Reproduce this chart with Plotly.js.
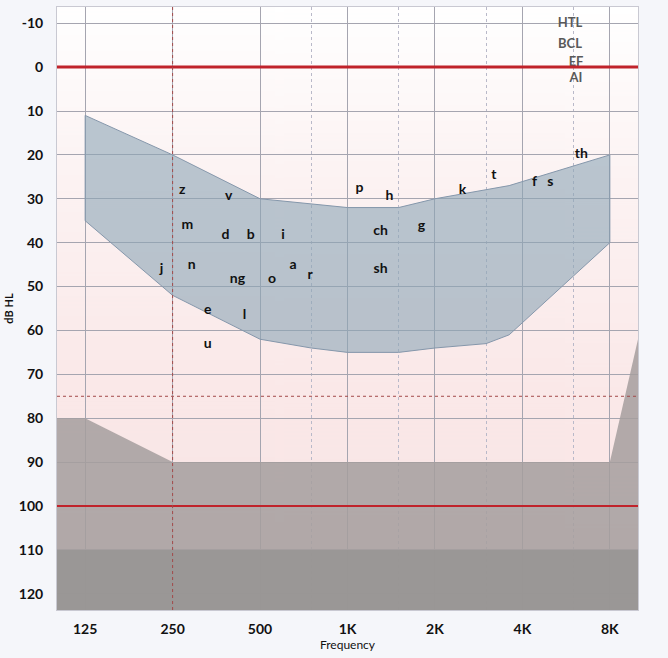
<!DOCTYPE html>
<html><head><meta charset="utf-8">
<script src="https://cdn.plot.ly/plotly-3.0.1.min.js"></script>
<style>html,body{margin:0;padding:0;background:#f5f6fa;}#c{width:668px;height:658px;}</style>
</head><body><div id="c"></div>
<script>
// Axis ticks
const freqTicks = [125, 250, 500, 1000, 2000, 4000, 8000];
const freqTickText = ['125', '250', '500', '1K', '2K', '4K', '8K'];
const halfOctaves = [750, 1500, 3000, 6000];
const dbTicks = [-10, 0, 10, 20, 30, 40, 50, 60, 70, 80, 90, 100, 110, 120];
const dbTickText = ['-10', '0', '10', '20', '30', '40', '50', '60', '70', '80', '90', '100', '110', '120'];

// Speech banana
const bananaTopFreq = [125, 250, 500, 1000, 1500, 2000, 3600, 8000];
const bananaTopDb   = [11, 20, 30, 32, 32, 30, 27, 20];
const bananaBotFreq = [125, 250, 500, 750, 1000, 1500, 2000, 3000, 3600, 8000];
const bananaBotDb   = [35, 52, 62, 64, 65, 65, 64, 63, 61, 40];

// Phonemes
const phonemes   = ['z','v','m','d','b','i','j','n','ng','o','a','r','e','l','u','p','h','ch','sh','g','k','t','f','s','th'];
const phonFreq   = [270,390,281,380,464,600,229,291,418,550,650,743,330,442,330,1100,1395,1300,1300,1797,2490,3190,4400,4990,6380];
const phonDb     = [28.2,29.4,36.2,38.3,38.3,38.3,46.2,45.3,48.3,48.5,45.3,47.4,55.4,56.5,63.3,27.6,29.4,37.4,46,36.4,28,24.8,26.2,26.4,20];

// Legend labels (top right)
const legendLabels = ['HTL', 'BCL', 'EF', 'AI'];
const legendFreq   = [5835, 5835, 6120, 6120];
const legendDb     = [-9.8, -5.2, -1.1, 2.7];

// Limits
const maskFreq = [100, 125, 250, 8000, 10000];
const maskDb   = [80, 80, 90, 90, 62];
const maxOutputDb = 110;
const refLinesDb = [0, 100];
const uclDb = 75;
const markerFreq = 250;

const yMin = -13.7, yMax = 123.7;
const F = 'Lato, "Open Sans", sans-serif';

// gradient background image (canvas)
const cv = document.createElement('canvas');
cv.width = 4; cv.height = 600;
const cx = cv.getContext('2d');
const g = cx.createLinearGradient(0, 0, 0, 600);
g.addColorStop(0, '#ffffff');
g.addColorStop(0.3, '#fcf2f2');
g.addColorStop(0.65, '#fae8e8');
g.addColorStop(1, '#f9e4e4');
cx.fillStyle = g; cx.fillRect(0, 0, 4, 600);
const bgURI = cv.toDataURL('image/png');

const traces = [];
// upper gray mask
traces.push({
  x: maskFreq.concat([10000, 100, 100]),
  y: maskDb.concat([yMax, yMax, maskDb[0]]),
  mode: 'lines', line: {width: 0}, fill: 'toself',
  fillcolor: 'rgba(164,158,157,0.85)', hoverinfo: 'skip', showlegend: false
});
// darker band
traces.push({
  x: [100, 10000, 10000, 100, 100], y: [maxOutputDb, maxOutputDb, yMax, yMax, maxOutputDb],
  mode: 'lines', line: {width: 0}, fill: 'toself',
  fillcolor: 'rgba(151,148,147,0.85)', hoverinfo: 'skip', showlegend: false
});
// banana
traces.push({
  x: bananaTopFreq.concat(bananaBotFreq.slice().reverse()).concat([bananaTopFreq[0]]),
  y: bananaTopDb.concat(bananaBotDb.slice().reverse()).concat([bananaTopDb[0]]),
  mode: 'lines', line: {color: '#8597ab', width: 1}, fill: 'toself',
  fillcolor: 'rgba(140,165,182,0.6)', hoverinfo: 'skip', showlegend: false
});
// phonemes
traces.push({
  x: phonFreq, y: phonDb, text: phonemes, mode: 'text',
  textfont: {family: F, size: 14, color: '#111', weight: 700},
  hoverinfo: 'skip', showlegend: false
});
// legend labels
traces.push({
  x: legendFreq, y: legendDb, text: legendLabels, mode: 'text',
  textfont: {family: F, size: 13, color: '#595959', weight: 700},
  hoverinfo: 'skip', showlegend: false
});

const shapes = [];
refLinesDb.forEach((d, i) => shapes.push({
  type: 'line', xref: 'paper', x0: 0, x1: 1, yref: 'y', y0: d, y1: d,
  line: {color: '#c0232b', width: i === 0 ? 3 : 2}, layer: 'above'
}));
shapes.push({type: 'line', xref: 'paper', x0: 0, x1: 1, yref: 'y', y0: uclDb, y1: uclDb,
  line: {color: '#a34a4a', width: 1, dash: 'dot'}, layer: 'above'});
shapes.push({type: 'line', xref: 'x', x0: markerFreq, x1: markerFreq, yref: 'paper', y0: 0, y1: 1,
  line: {color: '#a34a4a', width: 1, dash: 'dot'}, layer: 'above'});

const layout = {
  width: 668, height: 658,
  margin: {l: 57, r: 30, t: 7, b: 48},
  paper_bgcolor: '#f5f6fa', plot_bgcolor: '#fdf6f6',
  showlegend: false,
  font: {family: F, color: '#111'},
  images: [{source: bgURI, xref: 'paper', yref: 'paper', x: 0, y: 1, sizex: 1, sizey: 1,
            sizing: 'stretch', xanchor: 'left', yanchor: 'top', layer: 'below'}],
  xaxis: {
    type: 'log', range: [2, 4], tickvals: freqTicks, ticktext: freqTickText,
    tickfont: {family: F, size: 14, weight: 700, color: '#111'},
    showgrid: true, gridcolor: '#a5a5b0', gridwidth: 1,
    minor: {tickvals: halfOctaves, showgrid: true, gridcolor: '#b9b9c9', griddash: 'dot', gridwidth: 1, ticks: ''},
    showline: true, mirror: true, linecolor: '#c9c9d2', linewidth: 1,
    zeroline: false, ticks: '', ticklabelstandoff: 6,
    title: {text: 'Frequency', font: {family: F, size: 12, color: '#111'}, standoff: 0}
  },
  yaxis: {
    range: [yMax, yMin], tickvals: dbTicks, ticktext: dbTickText,
    tickfont: {family: F, size: 14, weight: 700, color: '#111'},
    showgrid: true, gridcolor: '#a5a5b0', gridwidth: 1,
    showline: true, mirror: true, linecolor: '#c9c9d2', linewidth: 1,
    zeroline: false, ticks: '', ticklabelstandoff: 10,
    title: {text: 'dB HL', font: {family: F, size: 11, color: '#111', weight: 700}, standoff: 2}
  },
  shapes: shapes
};
Plotly.newPlot('c', traces, layout, {displayModeBar: false, staticPlot: true});
</script></body></html>
